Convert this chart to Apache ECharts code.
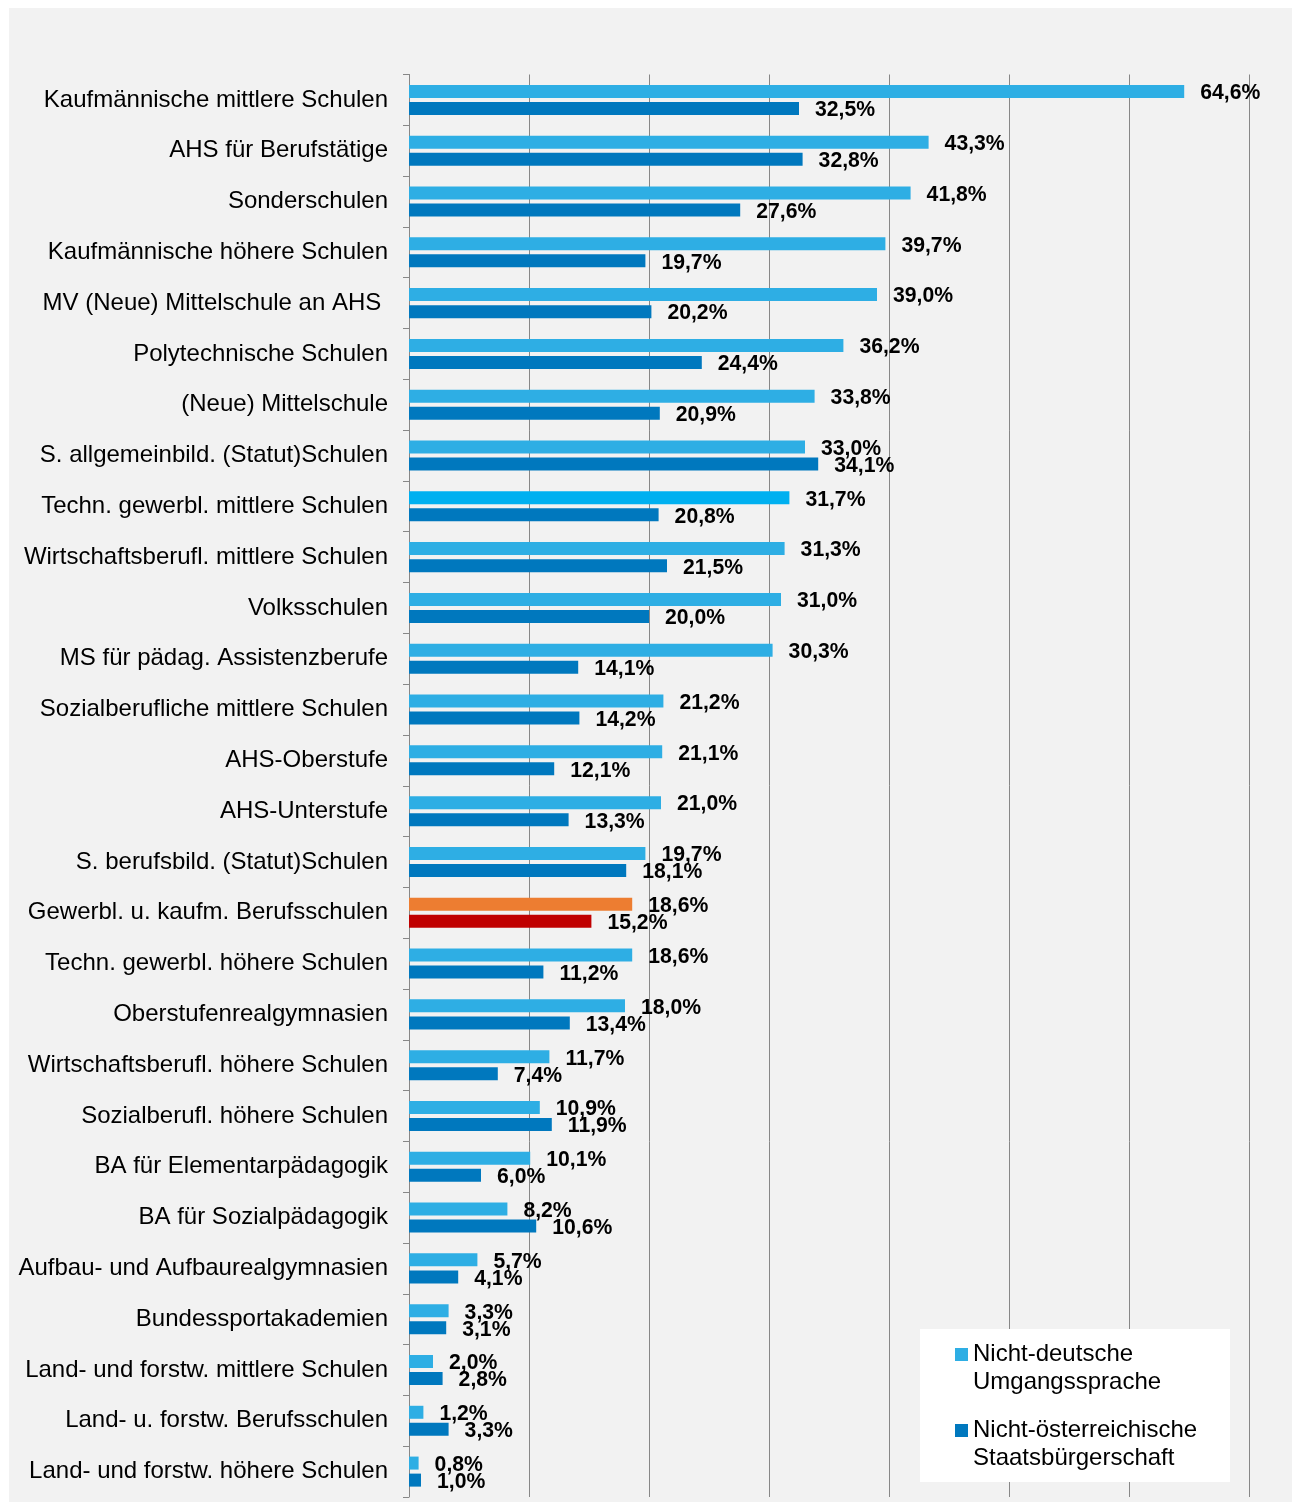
<!DOCTYPE html>
<html>
<head>
<meta charset="utf-8">
<script src="https://cdn.jsdelivr.net/npm/echarts@6/dist/echarts.min.js"></script>
<style>
  html, body { margin: 0; padding: 0; background: #ffffff; }
  #chart { position: absolute; left: 9px; top: 8px; width: 1283px; height: 1494px; }
</style>
</head>
<body>
<div id="chart"></div>
<script>
// School types, top to bottom
const categories = [
  'Kaufmännische mittlere Schulen',
  'AHS für Berufstätige',
  'Sonderschulen',
  'Kaufmännische höhere Schulen',
  'MV (Neue) Mittelschule an AHS ',
  'Polytechnische Schulen',
  '(Neue) Mittelschule',
  'S. allgemeinbild. (Statut)Schulen',
  'Techn. gewerbl. mittlere Schulen',
  'Wirtschaftsberufl. mittlere Schulen',
  'Volksschulen',
  'MS für pädag. Assistenzberufe',
  'Sozialberufliche mittlere Schulen',
  'AHS-Oberstufe',
  'AHS-Unterstufe',
  'S. berufsbild. (Statut)Schulen',
  'Gewerbl. u. kaufm. Berufsschulen',
  'Techn. gewerbl. höhere Schulen',
  'Oberstufenrealgymnasien',
  'Wirtschaftsberufl. höhere Schulen',
  'Sozialberufl. höhere Schulen',
  'BA für Elementarpädagogik',
  'BA für Sozialpädagogik',
  'Aufbau- und Aufbaurealgymnasien',
  'Bundessportakademien',
  'Land- und forstw. mittlere Schulen',
  'Land- u. forstw. Berufsschulen',
  'Land- und forstw. höhere Schulen'
];

// Share of pupils with non-German everyday language (%)
const nonGermanLanguage = [
  64.6, 43.3, 41.8, 39.7, 39.0, 36.2, 33.8, 33.0, 31.7, 31.3, 31.0, 30.3, 21.2, 21.1,
  21.0, 19.7, 18.6, 18.6, 18.0, 11.7, 10.9, 10.1, 8.2, 5.7, 3.3, 2.0, 1.2, 0.8
];

// Share of pupils without Austrian citizenship (%)
const nonAustrianCitizenship = [
  32.5, 32.8, 27.6, 19.7, 20.2, 24.4, 20.9, 34.1, 20.8, 21.5, 20.0, 14.1, 14.2, 12.1,
  13.3, 18.1, 15.2, 11.2, 13.4, 7.4, 11.9, 6.0, 10.6, 4.1, 3.1, 2.8, 3.3, 1.0
];

const seriesNames = ['Nicht-deutsche Umgangssprache', 'Nicht-österreichische Staatsbürgerschaft'];

// Value axis ticks (percent)
const axisMin = 0;
const axisMax = 70;
const axisStep = 10;

const FONT = '"Liberation Sans", Arial, sans-serif';
const COLOR_LANG = '#2eaee4';
const COLOR_CIT = '#0078be';

// Highlighted bars: category -> [language colour, citizenship colour]
const highlights = {
  'Techn. gewerbl. mittlere Schulen': ['#00b0f0', null],
  'Gewerbl. u. kaufm. Berufsschulen': ['#ed7d31', '#c00000']
};

function buildData(values, seriesIdx) {
  return values.map((v, i) => {
    const h = highlights[categories[i]];
    if (h && h[seriesIdx]) {
      return { value: v, itemStyle: { color: h[seriesIdx] } };
    }
    return v;
  });
}

function pct(p) {
  return p.value.toFixed(1).replace('.', ',') + '%';
}

const valueLabel = {
  show: true,
  position: 'right',
  distance: 16,
  offset: [0, 2],
  formatter: pct,
  color: '#000000',
  fontFamily: FONT,
  fontSize: 21.2,
  fontWeight: 'bold'
};

const chart = echarts.init(document.getElementById('chart'), null, { renderer: 'canvas' });

chart.setOption({
  backgroundColor: '#f2f2f2',
  animation: false,
  grid: {
    left: 400,
    top: 66.5,
    width: 840,
    height: 1422.5,
    outerBoundsMode: 'none'
  },
  xAxis: {
    type: 'value',
    min: axisMin,
    max: axisMax,
    interval: axisStep,
    axisLine: { show: false },
    axisTick: { show: false },
    axisLabel: { show: false },
    splitLine: { show: true, lineStyle: { color: '#878787', width: 1 } }
  },
  yAxis: {
    type: 'category',
    data: categories,
    inverse: true,
    axisLine: { show: true, lineStyle: { color: '#878787', width: 1 } },
    axisTick: { show: true, length: 6, lineStyle: { color: '#878787' } },
    axisLabel: {
      interval: 0,
      margin: 21,
      color: '#000000',
      fontFamily: FONT,
      fontSize: 24,
      padding: [3, 0, 0, 0]
    }
  },
  legend: {
    orient: 'vertical',
    left: 946,
    top: 1304.5,
    padding: 0,
    itemGap: -8,
    itemWidth: 13,
    itemHeight: 13,
    icon: 'rect',
    selectedMode: false,
    // blank first line keeps the square level with the first text line
    formatter: name => ' \n' + name.replace(' ', '\n'),
    textStyle: {
      color: '#000000',
      fontFamily: FONT,
      fontSize: 24,
      lineHeight: 28
    },
    data: seriesNames
  },
  graphic: [{
    type: 'rect',
    left: 911,
    top: 1321,
    z: 3,
    shape: { width: 310, height: 153 },
    style: { fill: '#ffffff' }
  }],
  series: [
    {
      name: seriesNames[0],
      type: 'bar',
      barWidth: 13,
      barGap: '31%',
      itemStyle: { color: COLOR_LANG },
      label: valueLabel,
      data: buildData(nonGermanLanguage, 0)
    },
    {
      name: seriesNames[1],
      type: 'bar',
      barWidth: 13,
      barGap: '31%',
      itemStyle: { color: COLOR_CIT },
      label: valueLabel,
      data: buildData(nonAustrianCitizenship, 1)
    }
  ]
});
</script>
</body>
</html>
